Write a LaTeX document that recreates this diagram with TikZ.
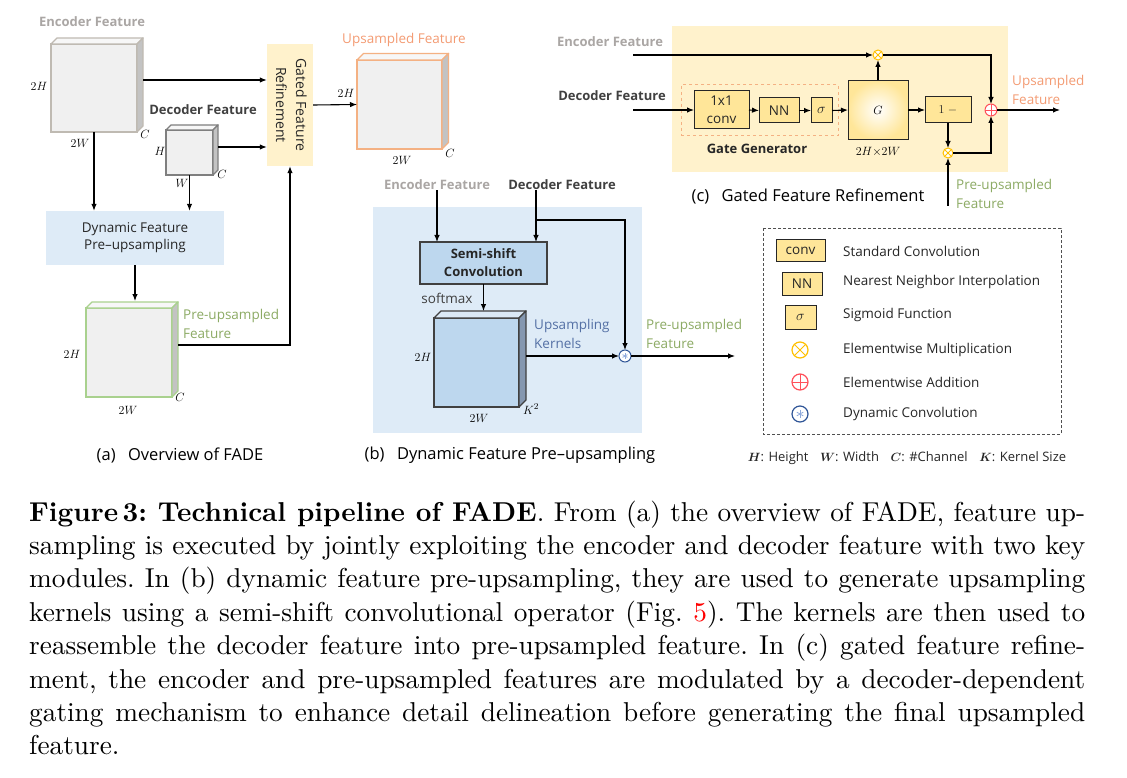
\documentclass[tikz,border=0pt]{standalone}
\usepackage{amsmath}
\usepackage{graphicx}
\usepackage{fontspec}
\newfontfamily\figfont{Open Sans}
\newfontfamily\capfont{lmroman10-regular.otf}[BoldFont=lmroman10-bold.otf]
\usetikzlibrary{arrows.meta,calc}

\definecolor{ink}{RGB}{38,38,38}
\definecolor{encgray}{RGB}{170,166,164}
\definecolor{decgray}{RGB}{64,64,64}
\definecolor{encedge}{RGB}{191,186,178}
\definecolor{decedge}{RGB}{127,127,127}
\definecolor{preedge}{RGB}{169,209,142}
\definecolor{upedge}{RGB}{244,177,131}
\definecolor{facefill}{RGB}{240,240,240}
\definecolor{sidefill}{RGB}{195,195,195}
\definecolor{pregreen}{RGB}{140,170,100}
\definecolor{uporange}{RGB}{243,155,115}
\definecolor{kernblue}{RGB}{189,215,238}
\definecolor{kernside}{RGB}{132,151,176}
\definecolor{kerntext}{RGB}{84,112,165}
\definecolor{panelblue}{RGB}{222,235,247}
\definecolor{panelyellow}{RGB}{255,242,204}
\definecolor{boxyellow}{RGB}{255,230,153}
\definecolor{mulorange}{RGB}{255,192,0}
\definecolor{addred}{RGB}{255,80,90}
\definecolor{dconvblue}{RGB}{47,85,151}
\definecolor{dconvlight}{RGB}{143,170,220}
\definecolor{legendgray}{RGB}{80,80,80}

\tikzset{
  arr/.style={-{Latex[length=7pt,width=5.5pt]}, line width=1.1pt},
  wire/.style={line width=1.1pt},
  lbl/.style={font=\figfont\fontsize{13.5}{19}\selectfont, inner sep=0pt, text=ink},
  boldlbl/.style={lbl, font=\figfont\bfseries\fontsize{13}{18}\selectfont},
  enclabel/.style={boldlbl, text=encgray},
  declabel/.style={boldlbl, text=decgray},
  sublbl/.style={font=\figfont\fontsize{16.5}{20}\selectfont, inner sep=0pt},
  dimlbl/.style={font=\fontsize{12.5}{14}\selectfont, inner sep=0pt},
  cubeface/.style={rectangle, line width=1.4pt, inner sep=0pt, outer sep=0pt},
  cubeedge/.style={line width=1.4pt, line join=round},
  opbox/.style={rectangle, draw=ink, line width=1pt, fill=boxyellow, inner sep=0pt,
    outer sep=0pt, text=ink, font=\figfont\fontsize{13.5}{18}\selectfont},
  mulop/.style={circle, draw=mulorange, fill=white, line width=1pt, minimum size=10pt,
    inner sep=0pt, outer sep=0pt,
    path picture={\draw[mulorange, line width=0.9pt]
      (path picture bounding box.north west) -- (path picture bounding box.south east)
      (path picture bounding box.north east) -- (path picture bounding box.south west);}},
  addop/.style={circle, draw=addred, fill=white, line width=1pt, minimum size=12pt,
    inner sep=0pt, outer sep=0pt,
    path picture={\draw[addred, line width=0.9pt]
      (path picture bounding box.north) -- (path picture bounding box.south)
      (path picture bounding box.west) -- (path picture bounding box.east);}},
  dconvop/.style={circle, draw=dconvblue, fill=white, line width=1pt, minimum size=12pt,
    inner sep=0pt, outer sep=0pt,
    path picture={\foreach \a in {90,30,-30}
      \draw[dconvlight, line width=0.8pt]
        ($(path picture bounding box.center)+(\a:#1)$) --
        ($(path picture bounding box.center)+(\a+180:#1)$);}},
  dconvop/.default=2.8pt,
}

% cube: name, x, y, width, height, depth, edge, face, side
\newcommand{\featcube}[9]{%
  \node[cubeface, draw=#7, fill=#8, minimum width=#4pt, minimum height=#5pt] (#1) at (#2,#3) {};
  \filldraw[cubeedge, draw=#7, fill=#8!55!white] (#1.north west) -- ++(#6,-#6)
    -- ([shift={(#6,-#6)}]#1.north east) -- (#1.north east) -- cycle;
  \filldraw[cubeedge, draw=#7, fill=#9] (#1.north east) -- ++(#6,-#6)
    -- ([shift={(#6,-#6)}]#1.south east) -- (#1.south east) -- cycle;
}
\newcommand{\legenditem}[2]{\node[lbl, anchor=west] at (843,#1) {#2};}

\begin{document}
\begin{tikzpicture}[x=1pt,y=-1pt]
  \useasboundingbox (0,0) rectangle (1127,778);

  % (a) overview of FADE
  \node[enclabel] (aenc) at (92,22) {Encoder Feature};
  \featcube{enc}{94}{88}{86}{88}{6}{encedge}{facefill}{sidefill}
  \node[dimlbl] at (39,86) {$2H$};
  \node[dimlbl] at (80,143) {$2W$};
  \node[dimlbl] at (145,134) {$C$};

  \node[declabel] (adec) at (203,110) {Decoder Feature};
  \featcube{dec}{189.5}{152.5}{47}{45}{5}{decedge}{facefill}{sidefill}
  \node[dimlbl] at (160,151) {$H$};
  \node[dimlbl] at (182,183) {$W$};
  \node[dimlbl] at (222,174) {$C$};

  \node[rectangle, fill=panelyellow, minimum width=46pt, minimum height=122pt, inner sep=0pt,
    font=\figfont\fontsize{14}{20}\selectfont, text=ink] (gfr) at (290,105)
    {\rotatebox{-90}{\begin{tabular}{@{}c@{}}Gated Feature\\Refinement\end{tabular}}};

  \node[rectangle, fill=panelblue, minimum width=178pt, minimum height=54pt, inner sep=0pt,
    align=center, font=\figfont\fontsize{13.5}{17}\selectfont, text=ink] (dfp) at (135,238)
    {Dynamic Feature\\Pre\textendash upsampling};

  \featcube{pre}{129}{352.5}{86}{89}{6}{preedge}{facefill}{sidefill}
  \node[dimlbl] at (72,354) {$2H$};
  \node[dimlbl] at (128,410) {$2W$};
  \node[dimlbl] at (180,397) {$C$};
  \node[lbl, anchor=west, align=left, text=pregreen] at (183,323.5) {Pre-upsampled\\Feature};

  \node[lbl, text=uporange] (aup) at (404,40) {Upsampled Feature};
  \featcube{up}{399.5}{104.5}{85}{89}{6.5}{upedge}{facefill}{sidefill}
  \node[dimlbl] at (346,93) {$2H$};
  \node[dimlbl] at (402,160) {$2W$};
  \node[dimlbl] at (450,153) {$C$};

  \coordinate (encout) at ([xshift=6pt,yshift=8pt]enc.east);
  \coordinate (decout) at ([xshift=5pt,yshift=5.5pt]dec.east);
  \coordinate (pretop) at ([yshift=7pt]pre.north);
  \coordinate (preout) at ([xshift=6pt,yshift=7.5pt]pre.east);
  \draw[arr] (encout) -- (encout -| gfr.west);
  \draw[arr] (decout) -- (decout -| gfr.west);
  \draw[arr] (enc.south) -- (enc.south |- dfp.north);
  \draw[arr] (dec.south) -- (dec.south |- dfp.north);
  \draw[arr] (dfp.south) -- (dfp.south |- pretop);
  \draw[arr] (preout) -| (gfr.south);
  \draw[arr] (gfr.east) -- (up.west);

  \node[sublbl] at (180,455) {(a)\hspace{0.75em}Overview of FADE};

  % (b) dynamic feature pre-upsampling
  \fill[panelblue] (373,207) rectangle (642,433);
  \node[enclabel] (benc) at (437,185) {Encoder Feature};
  \node[declabel] (bdec) at (562,185) {Decoder Feature};
  \node[rectangle, draw=decgray, line width=1.2pt, fill=kernblue, minimum width=127pt,
    minimum height=42pt, inner sep=0pt, outer sep=0pt, align=center, text=ink,
    font=\figfont\bfseries\fontsize{13}{18}\selectfont] (ssc) at (483.5,263)
    {Semi-shift\\Convolution};
  \node[lbl, text=decgray] at (447,298) {softmax};
  \featcube{kern}{476.5}{362.5}{85}{89}{7}{decgray}{kernblue}{kernside}
  \node[dimlbl] at (423,357) {$2H$};
  \node[dimlbl] at (479,418) {$2W$};
  \node[dimlbl] at (531,409) {$K^2$};
  \node[lbl, anchor=west, align=left, text=kerntext] at (534,333.5) {Upsampling\\Kernels};
  \node[dconvop] (dconv) at (625,356) {};
  \node[lbl, anchor=west, align=left, text=pregreen] at (646,333.5) {Pre-upsampled\\Feature};

  \coordinate (bsplit) at (536,220);
  \coordinate (kerntop) at ([yshift=7pt]kern.north);
  \coordinate (kernout) at ([xshift=7pt,yshift=6.5pt]kern.east);
  \coordinate (bout) at (735,356);
  \draw[arr] (benc.south) -- (benc.south |- ssc.north);
  \draw[wire] (bdec.south -| bsplit) -- (bsplit);
  \draw[arr] (bsplit) -- (bsplit |- ssc.north);
  \draw[arr] (bsplit) -| (dconv.north);
  \draw[arr] (ssc.south) -- (ssc.south |- kerntop);
  \draw[arr] (kernout) -- (kernout -| dconv.west);
  \draw[arr] (dconv.east) -- (bout);

  \node[sublbl] at (510,455) {(b)\hspace{0.75em}Dynamic Feature Pre\textendash upsampling};

  % (c) gated feature refinement
  \fill[panelyellow] (672,26) rectangle (1008,172);
  \node[enclabel] (cenc) at (610,42) {Encoder Feature};
  \node[declabel] (cdec) at (612,96) {Decoder Feature};
  \node[draw=upedge, dashed, line width=1pt, minimum width=157pt, minimum height=51pt,
    inner sep=0pt] (gg) at (759.5,110.5) {};
  \node[boldlbl, text=ink] at (757,149) {Gate Generator};
  \node[opbox, minimum width=55pt, minimum height=38pt, align=center] (conv) at (721.5,110)
    {1x1\\conv};
  \node[opbox, minimum width=40pt, minimum height=25pt] (nn) at (779,110.5) {NN};
  \node[opbox, minimum width=21pt, minimum height=25pt] (sig) at (821.5,110.5) {$\sigma$};
  \node[rectangle, draw=ink, line width=1pt, inner color=white, outer color=boxyellow,
    minimum width=60pt, minimum height=59pt, inner sep=0pt, outer sep=0pt,
    font=\fontsize{13}{15}\selectfont] (gate) at (878,110) {$G$};
  \node[dimlbl] at (878,152) {$2H{\times}2W$};
  \node[opbox, minimum width=46pt, minimum height=26pt, font=\fontsize{13}{15}\selectfont]
    (om) at (948,110) {$1\;{-}$};
  \node[mulop] (mula) at (878,55) {};
  \node[mulop] (mulb) at (948,153) {};
  \node[addop] (sum) at (991,110) {};
  \node[lbl, anchor=west, align=left, text=uporange] at (1012,89.5) {Upsampled\\Feature};
  \node[lbl, anchor=west, align=left, text=pregreen] at (956,194) {Pre-upsampled\\Feature};

  \coordinate (cencin) at (633,55);
  \coordinate (cdecin) at (633,110);
  \coordinate (cprein) at (948,206);
  \coordinate (cout) at (1060,110);
  \draw[arr] (cencin) -- (mula.west);
  \draw[arr] (mula.east) -| (sum.north);
  \draw[arr] (cdecin) -- (conv.west);
  \draw[arr] (conv.east) -- (nn.west);
  \draw[arr] (nn.east) -- (sig.west);
  \draw[arr] (sig.east) -- (gate.west);
  \draw[arr] (gate.north) -- (mula.south);
  \draw[arr] (gate.east) -- (om.west);
  \draw[arr] (om.south) -- (mulb.north);
  \draw[arr] (cprein) -- (mulb.south);
  \draw[arr] (mulb.east) -| (sum.south);
  \draw[arr] (sum.east) -- (cout);

  \node[sublbl] at (808,196) {(c)\hspace{0.75em}Gated Feature Refinement};

  % legend
  \draw[legendgray, line width=0.9pt, dash pattern=on 3pt off 2pt] (763,228) rectangle (1061,434);
  \node[opbox, minimum width=49pt, minimum height=21pt] (lconv) at (800.5,250.5) {conv};
  \node[opbox, minimum width=40pt, minimum height=23pt] (lnn) at (802,283.5) {NN};
  \node[opbox, minimum width=31pt, minimum height=24pt] (lsig) at (800.5,317) {$\sigma$};
  \node[mulop, minimum size=16pt, line width=1.2pt] (lmul) at (800,350) {};
  \node[addop, minimum size=16pt, line width=1.2pt] (ladd) at (800,382) {};
  \node[dconvop=3.8pt, minimum size=16pt, line width=1.2pt] (ldconv) at (800,414) {};
  \legenditem{251}{Standard Convolution}
  \legenditem{282}{Nearest Neighbor Interpolation}
  \legenditem{315}{Sigmoid Function}
  \legenditem{350}{Elementwise Multiplication}
  \legenditem{382}{Elementwise Addition}
  \legenditem{414}{Dynamic Convolution}
  \node[lbl, font=\figfont\fontsize{13}{16}\selectfont] (key) at (907,458)
    {$\boldsymbol{H}$: Height\hspace{0.9em}$\boldsymbol{W}$: Width\hspace{0.9em}$\boldsymbol{C}$: \#Channel\hspace{0.9em}$\boldsymbol{K}$: Kernel Size};

  % caption
  \node[anchor=base west, text width=1056pt, inner sep=0pt, align=justify,
    font=\capfont\fontsize{27.3}{33.4}\selectfont] (caption) at (29,521)
    {\hyphenpenalty=10000\tolerance=10000\frenchspacing
    \textbf{Figure\,3: Technical pipeline of FADE}. From (a) the overview of FADE, feature up-\linebreak
    sampling is executed by jointly exploiting the encoder and decoder feature with two key\linebreak
    modules. In (b) dynamic feature pre-upsampling, they are used to generate upsampling\linebreak
    kernels using a semi-shift convolutional operator (Fig.~\textcolor{red}{5}). The kernels are then used to\linebreak
    reassemble the decoder feature into pre-upsampled feature. In (c) gated feature refine-\linebreak
    ment, the encoder and pre-upsampled features are modulated by a decoder-dependent\linebreak
    gating mechanism to enhance detail delineation before generating the final upsampled\linebreak
    feature.};
\end{tikzpicture}
\end{document}
